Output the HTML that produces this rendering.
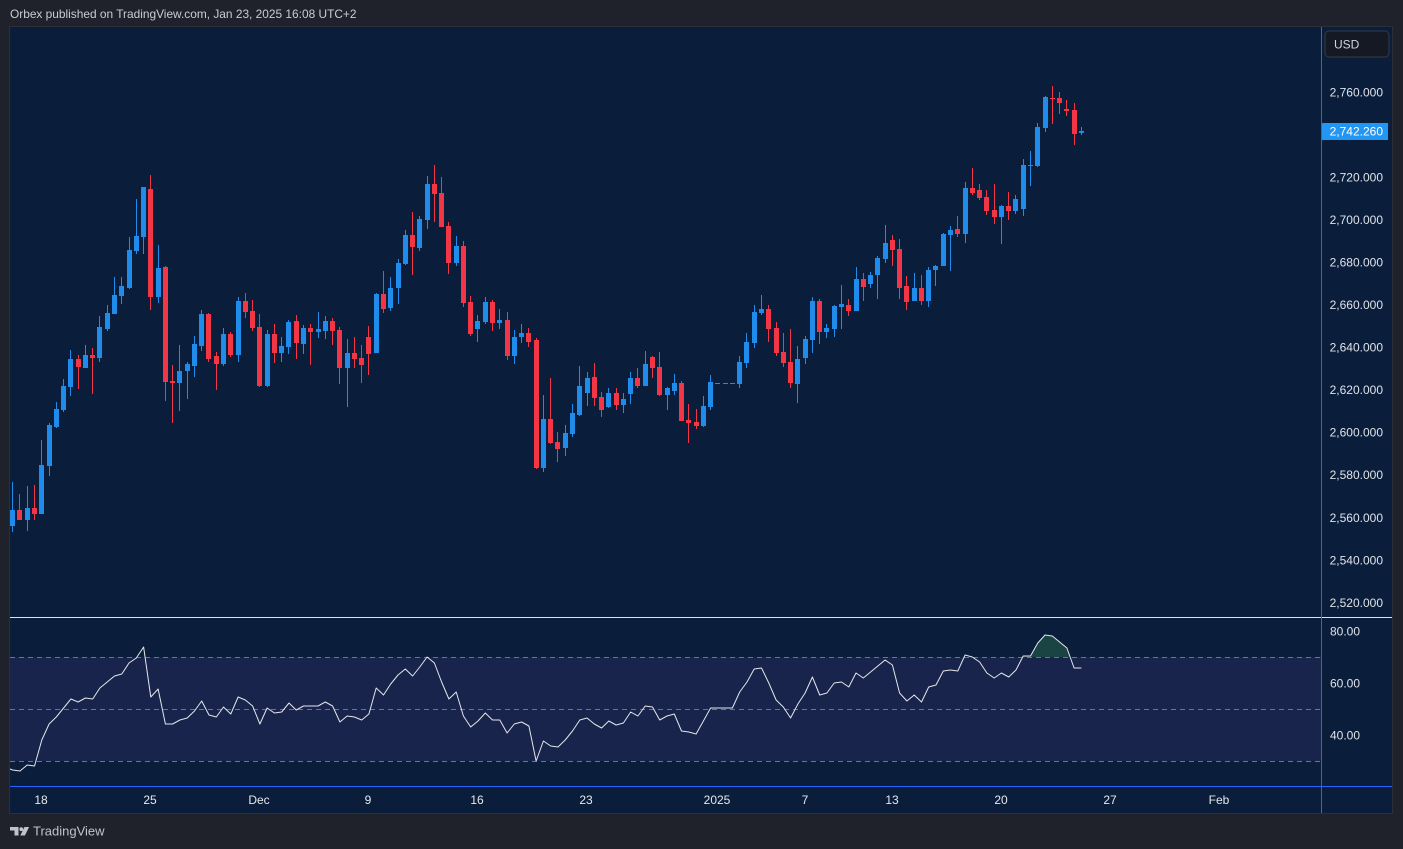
<!DOCTYPE html>
<html><head><meta charset="utf-8"><style>
html,body{margin:0;padding:0;background:#1f222a;}
svg{display:block;font-family:"Liberation Sans",Arial,sans-serif;}
</style></head><body>
<svg width="1403" height="849" viewBox="0 0 1403 849" xmlns="http://www.w3.org/2000/svg">
<rect x="0" y="0" width="1403" height="849" fill="#1f222a"/>
<text x="10" y="18" font-size="11.9" fill="#c9ccd3">Orbex published on TradingView.com, Jan 23, 2025 16:08 UTC+2</text>
<rect x="9.5" y="26.5" width="1383" height="787" fill="#0a1e3c" stroke="#2b2f3a" stroke-width="1"/>
<rect x="10" y="657" width="1311" height="104" fill="#18244b"/>
<g stroke="#6f7586" stroke-width="1" stroke-dasharray="5 4">
<line x1="10" y1="657.5" x2="1321" y2="657.5"/>
<line x1="10" y1="709.5" x2="1321" y2="709.5"/>
<line x1="10" y1="761.5" x2="1321" y2="761.5"/>
</g>
<line x1="10" y1="617.5" x2="1392" y2="617.5" stroke="#dfe2e8" stroke-width="1"/>
<line x1="10" y1="786.5" x2="1392" y2="786.5" stroke="#2962ff" stroke-width="1"/>
<line x1="1321.5" y1="27" x2="1321.5" y2="813" stroke="#2962ff" stroke-width="1"/>

<g fill="#1f8ceb">
<rect x="12" y="482" width="1" height="50"/><rect x="10" y="510" width="5" height="16"/>
<rect x="27" y="486" width="1" height="45"/><rect x="25" y="508" width="5" height="12"/>
<rect x="41" y="440" width="1" height="74"/><rect x="39" y="465" width="5" height="49"/>
<rect x="49" y="423" width="1" height="53"/><rect x="47" y="425" width="5" height="41"/>
<rect x="56" y="402" width="1" height="26"/><rect x="54" y="409" width="5" height="18"/>
<rect x="63" y="379" width="1" height="33"/><rect x="61" y="386" width="5" height="24"/>
<rect x="70" y="350" width="1" height="46"/><rect x="68" y="359" width="5" height="28"/>
<rect x="85" y="345" width="1" height="23"/><rect x="83" y="355" width="5" height="13"/>
<rect x="99" y="316" width="1" height="46"/><rect x="97" y="327" width="5" height="31"/>
<rect x="107" y="305" width="1" height="26"/><rect x="105" y="313" width="5" height="16"/>
<rect x="114" y="277" width="1" height="37"/><rect x="112" y="295" width="5" height="19"/>
<rect x="121" y="277" width="1" height="27"/><rect x="119" y="286" width="5" height="10"/>
<rect x="129" y="237" width="1" height="52"/><rect x="127" y="250" width="5" height="38"/>
<rect x="136" y="199" width="1" height="55"/><rect x="134" y="236" width="5" height="15"/>
<rect x="143" y="187" width="1" height="67"/><rect x="141" y="187" width="5" height="50"/>
<rect x="158" y="245" width="1" height="58"/><rect x="156" y="268" width="5" height="29"/>
<rect x="179" y="345" width="1" height="66"/><rect x="177" y="371" width="5" height="12"/>
<rect x="187" y="362" width="1" height="37"/><rect x="185" y="364" width="5" height="7"/>
<rect x="194" y="336" width="1" height="41"/><rect x="192" y="344" width="5" height="22"/>
<rect x="201" y="310" width="1" height="41"/><rect x="199" y="314" width="5" height="32"/>
<rect x="223" y="328" width="1" height="38"/><rect x="221" y="334" width="5" height="30"/>
<rect x="238" y="297" width="1" height="65"/><rect x="236" y="301" width="5" height="54"/>
<rect x="267" y="330" width="1" height="57"/><rect x="265" y="334" width="5" height="52"/>
<rect x="281" y="337" width="1" height="25"/><rect x="279" y="346" width="5" height="7"/>
<rect x="288" y="320" width="1" height="34"/><rect x="286" y="322" width="5" height="25"/>
<rect x="303" y="325" width="1" height="29"/><rect x="301" y="328" width="5" height="16"/>
<rect x="318" y="312" width="1" height="26"/><rect x="316" y="329" width="5" height="3"/>
<rect x="325" y="316" width="1" height="23"/><rect x="323" y="321" width="5" height="10"/>
<rect x="347" y="339" width="1" height="68"/><rect x="345" y="353" width="5" height="15"/>
<rect x="376" y="293" width="1" height="60"/><rect x="374" y="294" width="5" height="59"/>
<rect x="390" y="277" width="1" height="34"/><rect x="388" y="288" width="5" height="20"/>
<rect x="398" y="259" width="1" height="45"/><rect x="396" y="263" width="5" height="25"/>
<rect x="405" y="230" width="1" height="35"/><rect x="403" y="235" width="5" height="29"/>
<rect x="419" y="216" width="1" height="35"/><rect x="417" y="219" width="5" height="29"/>
<rect x="427" y="176" width="1" height="53"/><rect x="425" y="184" width="5" height="36"/>
<rect x="456" y="236" width="1" height="30"/><rect x="454" y="246" width="5" height="17"/>
<rect x="477" y="315" width="1" height="27"/><rect x="475" y="321" width="5" height="8"/>
<rect x="485" y="297" width="1" height="27"/><rect x="483" y="302" width="5" height="20"/>
<rect x="499" y="309" width="1" height="20"/><rect x="497" y="320" width="5" height="3"/>
<rect x="514" y="330" width="1" height="34"/><rect x="512" y="337" width="5" height="19"/>
<rect x="521" y="324" width="1" height="19"/><rect x="519" y="333" width="5" height="4"/>
<rect x="543" y="395" width="1" height="77"/><rect x="541" y="419" width="5" height="49"/>
<rect x="565" y="425" width="1" height="31"/><rect x="563" y="433" width="5" height="15"/>
<rect x="572" y="404" width="1" height="33"/><rect x="570" y="413" width="5" height="21"/>
<rect x="579" y="366" width="1" height="50"/><rect x="577" y="386" width="5" height="29"/>
<rect x="587" y="372" width="1" height="34"/><rect x="585" y="378" width="5" height="15"/>
<rect x="608" y="388" width="1" height="20"/><rect x="606" y="393" width="5" height="14"/>
<rect x="623" y="393" width="1" height="20"/><rect x="621" y="399" width="5" height="6"/>
<rect x="630" y="372" width="1" height="32"/><rect x="628" y="378" width="5" height="16"/>
<rect x="645" y="351" width="1" height="35"/><rect x="643" y="364" width="5" height="22"/>
<rect x="667" y="387" width="1" height="23"/><rect x="665" y="388" width="5" height="7"/>
<rect x="674" y="374" width="1" height="21"/><rect x="672" y="383" width="5" height="8"/>
<rect x="703" y="396" width="1" height="31"/><rect x="701" y="406" width="5" height="20"/>
<rect x="710" y="375" width="1" height="35"/><rect x="708" y="382" width="5" height="25"/>
<rect x="715" y="383" width="5" height="1"/>
<rect x="723" y="383" width="5" height="1"/>
<rect x="730" y="383" width="5" height="1"/>
<rect x="739" y="356" width="1" height="32"/><rect x="737" y="362" width="5" height="22"/>
<rect x="746" y="333" width="1" height="35"/><rect x="744" y="342" width="5" height="21"/>
<rect x="754" y="305" width="1" height="43"/><rect x="752" y="312" width="5" height="31"/>
<rect x="761" y="295" width="1" height="20"/><rect x="759" y="309" width="5" height="4"/>
<rect x="797" y="346" width="1" height="57"/><rect x="795" y="359" width="5" height="25"/>
<rect x="805" y="336" width="1" height="28"/><rect x="803" y="339" width="5" height="19"/>
<rect x="812" y="297" width="1" height="56"/><rect x="810" y="301" width="5" height="39"/>
<rect x="826" y="324" width="1" height="14"/><rect x="824" y="328" width="5" height="4"/>
<rect x="834" y="305" width="1" height="32"/><rect x="832" y="306" width="5" height="23"/>
<rect x="841" y="285" width="1" height="44"/><rect x="839" y="304" width="5" height="3"/>
<rect x="856" y="267" width="1" height="44"/><rect x="854" y="279" width="5" height="32"/>
<rect x="870" y="272" width="1" height="16"/><rect x="868" y="275" width="5" height="9"/>
<rect x="877" y="256" width="1" height="43"/><rect x="875" y="258" width="5" height="17"/>
<rect x="885" y="225" width="1" height="38"/><rect x="883" y="243" width="5" height="16"/>
<rect x="914" y="273" width="1" height="28"/><rect x="912" y="288" width="5" height="13"/>
<rect x="928" y="267" width="1" height="40"/><rect x="926" y="270" width="5" height="31"/>
<rect x="935" y="265" width="1" height="21"/><rect x="933" y="266" width="5" height="4"/>
<rect x="943" y="233" width="1" height="33"/><rect x="941" y="234" width="5" height="32"/>
<rect x="950" y="226" width="1" height="45"/><rect x="948" y="230" width="5" height="5"/>
<rect x="965" y="182" width="1" height="61"/><rect x="963" y="188" width="5" height="46"/>
<rect x="1001" y="205" width="1" height="39"/><rect x="999" y="206" width="5" height="11"/>
<rect x="1015" y="195" width="1" height="19"/><rect x="1013" y="199" width="5" height="12"/>
<rect x="1023" y="159" width="1" height="57"/><rect x="1021" y="165" width="5" height="44"/>
<rect x="1030" y="151" width="1" height="35"/><rect x="1028" y="165" width="5" height="1"/>
<rect x="1037" y="123" width="1" height="44"/><rect x="1035" y="127" width="5" height="39"/>
<rect x="1045" y="96" width="1" height="36"/><rect x="1043" y="97" width="5" height="31"/>
<rect x="1081" y="127" width="1" height="8"/><rect x="1079" y="131" width="5" height="2"/>
</g>

<g fill="#f23645">
<rect x="19" y="494" width="1" height="26"/><rect x="17" y="510" width="5" height="10"/>
<rect x="34" y="485" width="1" height="35"/><rect x="32" y="508" width="5" height="6"/>
<rect x="78" y="355" width="1" height="34"/><rect x="76" y="359" width="5" height="8"/>
<rect x="92" y="348" width="1" height="46"/><rect x="90" y="355" width="5" height="3"/>
<rect x="150" y="175" width="1" height="135"/><rect x="148" y="189" width="5" height="108"/>
<rect x="165" y="266" width="1" height="135"/><rect x="163" y="267" width="5" height="115"/>
<rect x="172" y="365" width="1" height="58"/><rect x="170" y="381" width="5" height="2"/>
<rect x="208" y="313" width="1" height="49"/><rect x="206" y="314" width="5" height="45"/>
<rect x="216" y="352" width="1" height="38"/><rect x="214" y="356" width="5" height="8"/>
<rect x="230" y="332" width="1" height="25"/><rect x="228" y="334" width="5" height="21"/>
<rect x="245" y="293" width="1" height="25"/><rect x="243" y="301" width="5" height="11"/>
<rect x="252" y="300" width="1" height="31"/><rect x="250" y="311" width="5" height="17"/>
<rect x="259" y="314" width="1" height="73"/><rect x="257" y="327" width="5" height="59"/>
<rect x="274" y="324" width="1" height="39"/><rect x="272" y="334" width="5" height="19"/>
<rect x="296" y="315" width="1" height="44"/><rect x="294" y="321" width="5" height="22"/>
<rect x="310" y="324" width="1" height="41"/><rect x="308" y="328" width="5" height="4"/>
<rect x="332" y="318" width="1" height="27"/><rect x="330" y="321" width="5" height="10"/>
<rect x="339" y="327" width="1" height="57"/><rect x="337" y="330" width="5" height="38"/>
<rect x="354" y="337" width="1" height="31"/><rect x="352" y="353" width="5" height="6"/>
<rect x="361" y="345" width="1" height="38"/><rect x="359" y="358" width="5" height="7"/>
<rect x="368" y="326" width="1" height="49"/><rect x="366" y="337" width="5" height="17"/>
<rect x="383" y="271" width="1" height="42"/><rect x="381" y="294" width="5" height="15"/>
<rect x="412" y="212" width="1" height="63"/><rect x="410" y="235" width="5" height="12"/>
<rect x="434" y="165" width="1" height="57"/><rect x="432" y="184" width="5" height="10"/>
<rect x="441" y="177" width="1" height="50"/><rect x="439" y="193" width="5" height="34"/>
<rect x="448" y="222" width="1" height="52"/><rect x="446" y="226" width="5" height="37"/>
<rect x="463" y="241" width="1" height="66"/><rect x="461" y="246" width="5" height="57"/>
<rect x="470" y="296" width="1" height="40"/><rect x="468" y="302" width="5" height="32"/>
<rect x="492" y="300" width="1" height="31"/><rect x="490" y="302" width="5" height="21"/>
<rect x="507" y="312" width="1" height="48"/><rect x="505" y="320" width="5" height="36"/>
<rect x="528" y="328" width="1" height="19"/><rect x="526" y="333" width="5" height="9"/>
<rect x="536" y="338" width="1" height="131"/><rect x="534" y="340" width="5" height="128"/>
<rect x="550" y="378" width="1" height="66"/><rect x="548" y="419" width="5" height="24"/>
<rect x="557" y="432" width="1" height="30"/><rect x="555" y="442" width="5" height="7"/>
<rect x="594" y="363" width="1" height="43"/><rect x="592" y="377" width="5" height="21"/>
<rect x="601" y="392" width="1" height="25"/><rect x="599" y="397" width="5" height="13"/>
<rect x="616" y="388" width="1" height="22"/><rect x="614" y="393" width="5" height="12"/>
<rect x="637" y="368" width="1" height="20"/><rect x="635" y="378" width="5" height="8"/>
<rect x="652" y="356" width="1" height="22"/><rect x="650" y="357" width="5" height="11"/>
<rect x="659" y="352" width="1" height="44"/><rect x="657" y="367" width="5" height="28"/>
<rect x="681" y="381" width="1" height="40"/><rect x="679" y="383" width="5" height="38"/>
<rect x="688" y="404" width="1" height="39"/><rect x="686" y="420" width="5" height="3"/>
<rect x="696" y="409" width="1" height="20"/><rect x="694" y="422" width="5" height="4"/>
<rect x="768" y="305" width="1" height="37"/><rect x="766" y="309" width="5" height="20"/>
<rect x="776" y="322" width="1" height="34"/><rect x="774" y="328" width="5" height="25"/>
<rect x="783" y="333" width="1" height="34"/><rect x="781" y="352" width="5" height="11"/>
<rect x="790" y="329" width="1" height="59"/><rect x="788" y="362" width="5" height="21"/>
<rect x="819" y="299" width="1" height="45"/><rect x="817" y="301" width="5" height="31"/>
<rect x="848" y="299" width="1" height="17"/><rect x="846" y="305" width="5" height="6"/>
<rect x="863" y="273" width="1" height="28"/><rect x="861" y="279" width="5" height="8"/>
<rect x="892" y="235" width="1" height="31"/><rect x="890" y="240" width="5" height="10"/>
<rect x="899" y="239" width="1" height="60"/><rect x="897" y="249" width="5" height="39"/>
<rect x="906" y="276" width="1" height="34"/><rect x="904" y="286" width="5" height="16"/>
<rect x="921" y="275" width="1" height="30"/><rect x="919" y="288" width="5" height="13"/>
<rect x="957" y="216" width="1" height="21"/><rect x="955" y="229" width="5" height="5"/>
<rect x="972" y="168" width="1" height="27"/><rect x="970" y="188" width="5" height="5"/>
<rect x="979" y="184" width="1" height="16"/><rect x="977" y="190" width="5" height="8"/>
<rect x="986" y="190" width="1" height="25"/><rect x="984" y="197" width="5" height="14"/>
<rect x="994" y="184" width="1" height="40"/><rect x="992" y="210" width="5" height="7"/>
<rect x="1008" y="192" width="1" height="28"/><rect x="1006" y="206" width="5" height="5"/>
<rect x="1052" y="86" width="1" height="38"/><rect x="1050" y="98" width="5" height="1"/>
<rect x="1059" y="92" width="1" height="22"/><rect x="1057" y="98" width="5" height="5"/>
<rect x="1066" y="100" width="1" height="16"/><rect x="1064" y="109" width="5" height="2"/>
<rect x="1074" y="103" width="1" height="42"/><rect x="1072" y="110" width="5" height="24"/>
</g>

<polygon points="1022.7,657 1023.2,656 1030.5,656 1037.8,643 1045,635 1052.3,636 1059.6,642 1066.9,648 1070.1,657" fill="#1d4b45" fill-opacity="0.85"/>
<polyline fill="none" stroke="#e4e6ea" stroke-width="1" stroke-linejoin="round" points="10,769 12.7,770 20,771 27.2,765 34.5,766 41.8,740 49.1,724 56.3,717 63.6,708 70.9,699 78.1,702 85.4,698 92.7,699 99.9,688 107.2,682 114.5,676 121.8,674 129,663 136.3,658 143.6,647 150.8,697 158.1,689 165.4,724 172.6,724 179.9,720 187.2,718 194.5,711 201.7,701 209,715 216.3,717 223.5,707 230.8,714 238.1,697 245.3,700 252.6,706 259.9,724 267.1,708 274.4,713 281.7,712 289,703 296.2,710 303.5,706 310.8,706 318,706 325.3,702 332.6,706 339.9,722 347.1,716 354.4,717 361.7,720 368.9,714 376.2,688 383.5,695 390.7,684 398,675 405.3,669 412.6,676 419.8,667 427.1,657 434.4,663 441.6,682 448.9,699 456.2,692 463.4,716 470.7,727 478,721 485.3,713 492.5,720 499.8,720 507.1,733 514.3,724 521.6,722 528.9,726 536.1,761 543.4,741 550.7,746 558,747 565.2,740 572.5,731 579.8,720 587,718 594.3,724 601.6,728 608.8,721 616.1,725 623.4,723 630.7,712 637.9,716 645.2,706 652.5,707 659.7,720 667,716 674.3,714 681.5,731 688.8,732 696.1,734 703.4,721 710.6,708 717.9,708 725.2,708 732.4,708 739.7,692 747,682 754.2,669 761.5,668 768.8,683 776.1,700 783.3,707 790.6,718 797.9,704 805.1,693 812.4,677 819.7,695 826.9,693 834.2,683 841.5,682 848.8,687 856,673 863.3,678 870.6,672 877.8,666 885.1,660 892.4,665 899.6,693 906.9,701 914.2,695 921.5,702 928.7,687 936,685 943.3,671 950.5,670 957.8,671 965.1,655 972.3,657 979.6,662 986.9,673 994.2,678 1001.4,673 1008.7,677 1016,670 1023.2,656 1030.5,656 1037.8,643 1045,635 1052.3,636 1059.6,642 1066.9,648 1074.1,668 1081.4,668"/>

<rect x="1325" y="31" width="64" height="26" rx="4" ry="4" fill="#151923" stroke="#363a45" stroke-width="1"/>
<text x="1334" y="48.5" font-size="12" fill="#d1d4dc">USD</text>

<g font-size="12" fill="#dfe2e8" text-anchor="end">
<text x="1383" y="96.5">2,760.000</text>
<text x="1383" y="181.5">2,720.000</text>
<text x="1383" y="224">2,700.000</text>
<text x="1383" y="266.5">2,680.000</text>
<text x="1383" y="309">2,660.000</text>
<text x="1383" y="351.5">2,640.000</text>
<text x="1383" y="394">2,620.000</text>
<text x="1383" y="436.5">2,600.000</text>
<text x="1383" y="479">2,580.000</text>
<text x="1383" y="522">2,560.000</text>
<text x="1383" y="564.5">2,540.000</text>
<text x="1383" y="607">2,520.000</text>
</g>
<rect x="1322" y="123" width="66" height="17" fill="#2196f3"/>
<text x="1383" y="135.5" font-size="12" fill="#ffffff" text-anchor="end">2,742.260</text>
<g font-size="12" fill="#dfe2e8">
<text x="1330" y="635.5">80.00</text>
<text x="1330" y="687.5">60.00</text>
<text x="1330" y="739.5">40.00</text>
</g>
<g font-size="12" fill="#e6e8ec" text-anchor="middle">
<text x="41" y="804">18</text>
<text x="150" y="804">25</text>
<text x="259" y="804">Dec</text>
<text x="368" y="804">9</text>
<text x="477" y="804">16</text>
<text x="586" y="804">23</text>
<text x="717" y="804">2025</text>
<text x="805" y="804">7</text>
<text x="892" y="804">13</text>
<text x="1001" y="804">20</text>
<text x="1110" y="804">27</text>
<text x="1219" y="804">Feb</text>
</g>
<g fill="#c0c3ca">
<path d="M10 827h8.5v8.5h-4v-5h-4.5z"/>
<circle cx="21.3" cy="829.2" r="1.9"/>
<path d="M24.5 827h4.6l-4.2 8.5h-4.6z"/>
</g>
<text x="33" y="835.5" font-size="13" fill="#c0c3ca">TradingView</text>
</svg>
</body></html>
